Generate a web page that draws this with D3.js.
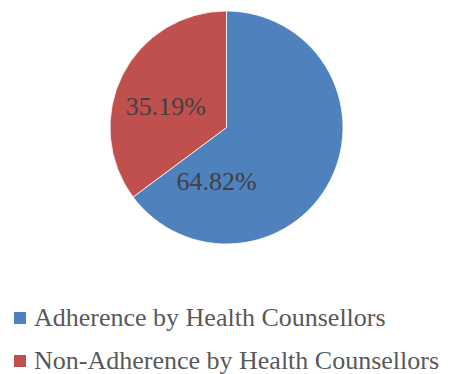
<!DOCTYPE html>
<html>
<head>
<meta charset="utf-8">
<script src="https://cdn.jsdelivr.net/npm/d3@7"></script>
<style>
  html, body { margin: 0; padding: 0; background: #fff; }
  svg { display: block; }
</style>
</head>
<body>
<svg id="chart" width="449" height="374"></svg>
<script>
// Share of counselling sessions
const categories = ["Adherence by Health Counsellors", "Non-Adherence by Health Counsellors"];
const values = [64.82, 35.19];
const labels = ["64.82%", "35.19%"];
const colors = ["#4F81BD", "#C0504D"];

const svg = d3.select("#chart");
const cx = 226.5, cy = 127.5, r = 116.5;

const pie = d3.pie().sort(null).value(d => d.v);
const arcs = pie(values.map((v, i) => ({ v, i })));
const arc = d3.arc().innerRadius(0).outerRadius(r);

const g = svg.append("g").attr("transform", `translate(${cx},${cy})`);

g.selectAll("path.slice")
  .data(arcs)
  .join("path")
  .attr("class", "slice")
  .attr("d", arc)
  .attr("fill", d => colors[d.data.i])
  .attr("stroke", "#ffffff")
  .attr("stroke-width", 0.8);

// Data labels: best-fit placement inside each slice, expressed as a nudge from the arc centroid
const labelArc = d3.arc().innerRadius(0).outerRadius(r);
const nudges = [[-62, 36], [-8.5, 13.5]];
g.selectAll("text.val")
  .data(arcs)
  .join("text")
  .attr("class", "val")
  .attr("x", d => labelArc.centroid(d)[0] + nudges[d.data.i][0])
  .attr("y", d => labelArc.centroid(d)[1] + nudges[d.data.i][1])
  .attr("text-anchor", "middle")
  .attr("font-family", "'Liberation Serif', 'Times New Roman', serif")
  .attr("font-size", 26)
  .attr("fill", "#404040")
  .text(d => labels[d.data.i]);

// Legend
const legend = svg.append("g");
const rowY = d3.scaleBand().domain(categories).range([296, 382]);
const item = legend.selectAll("g")
  .data(categories)
  .join("g")
  .attr("transform", d => `translate(14,${rowY(d)})`);

item.append("rect")
  .attr("x", 0)
  .attr("y", 16)
  .attr("width", 12)
  .attr("height", 12)
  .attr("fill", (d, i) => colors[i]);

item.append("text")
  .attr("x", 20)
  .attr("y", 30)
  .attr("font-family", "'Liberation Serif', 'Times New Roman', serif")
  .attr("font-size", 26)
  .attr("fill", "#595959")
  .text(d => d);
</script>
</body>
</html>
